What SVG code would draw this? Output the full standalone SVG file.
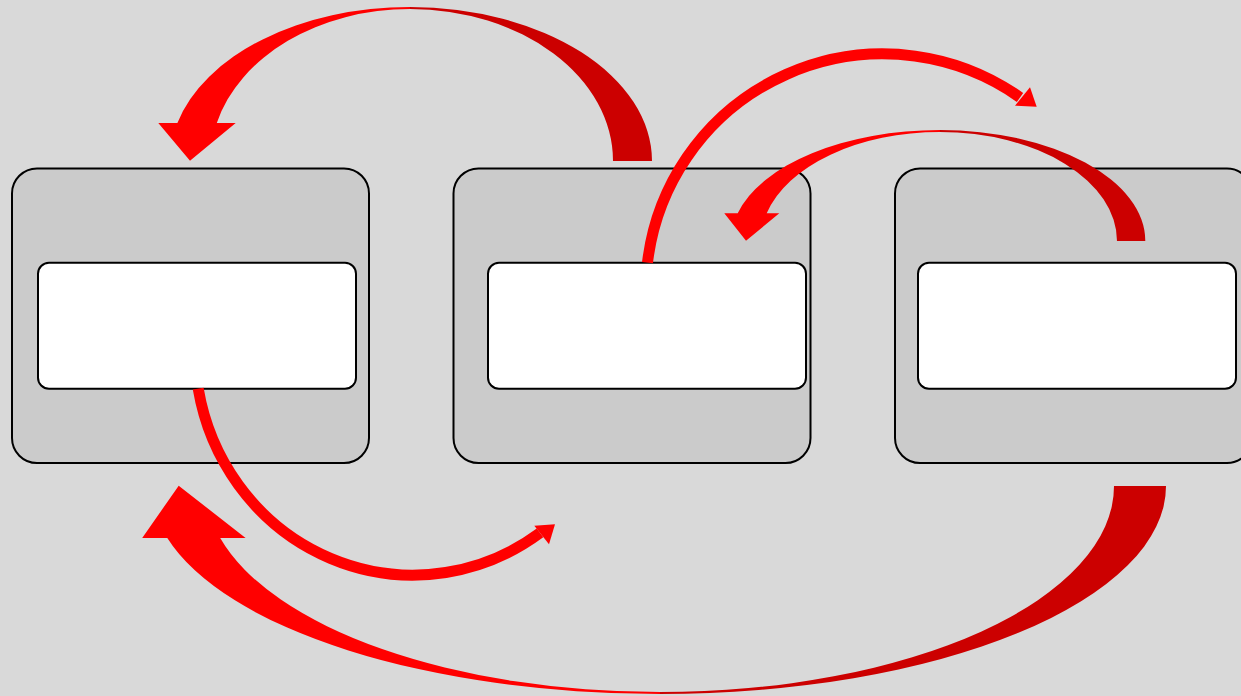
<svg xmlns="http://www.w3.org/2000/svg" width="1241" height="696" viewBox="0 0 1241 696">
  <style>
    .outer { fill: #cbcbcb; stroke: #000; stroke-width: 2; }
    .inner { fill: #ffffff; stroke: #000; stroke-width: 2; }
    .red { fill: #ff0000; }
    .dark { fill: #cc0000; }
    .line { fill: none; stroke: #ff0000; stroke-width: 11; stroke-linecap: butt; }
  </style>
  <rect x="0" y="0" width="1241" height="696" fill="#d9d9d9"/>
  <g id="node1">
    <rect class="outer" x="12" y="168.5" width="357" height="294.5" rx="25" ry="25"/>
    <rect class="inner" x="38" y="262.7" width="318" height="126" rx="11" ry="11"/>
  </g>
  <g id="node2">
    <rect class="outer" x="453.5" y="168.5" width="357" height="294.5" rx="25" ry="25"/>
    <rect class="inner" x="488" y="262.7" width="318" height="126" rx="11" ry="11"/>
  </g>
  <g id="node3">
    <rect class="outer" x="895" y="168.5" width="357" height="294.5" rx="25" ry="25"/>
    <rect class="inner" x="918" y="262.7" width="318" height="126" rx="11" ry="11"/>
  </g>
  <g id="connectors">
    <g id="arrow-top-left">
      <path class="dark" d="M 410 7 A 242 154 0 0 1 652 161 L 613 161 A 203 152 0 0 0 410 9 Z"/>
      <path class="red" d="M 410 7 A 240 154 0 0 0 177.4 123 L 158.3 123 L 190 160.7 L 235.7 123 L 216.8 123 A 199.5 152 0 0 1 410 9 Z"/>
    </g>
    <g id="arrow-top-right">
      <path class="line" d="M 647.5 262.7 A 237 236 0 0 1 1020 97.4"/>
      <polygon class="red" points="1030,87.3 1036.7,106.7 1015,105.7"/>
    </g>
    <g id="arrow-mid">
      <path class="dark" d="M 940 130 A 205.3 111 0 0 1 1145.3 241 L 1117 241 A 177 109 0 0 0 940 132 Z"/>
      <path class="red" d="M 940 130 A 208.9 111 0 0 0 737.7 213.3 L 724.3 213.3 L 746 240.7 L 779.3 213.3 L 766.7 213.3 A 179.2 109 0 0 1 940 132 Z"/>
    </g>
    <g id="arrow-bottom-small">
      <path class="line" d="M 198.2 388.7 A 218 225 0 0 0 540 532.9"/>
      <polygon class="red" points="534.3,525.7 555,524.3 549,544.3"/>
    </g>
    <g id="arrow-bottom-big">
      <path class="dark" d="M 660 694 A 506 208 0 0 0 1166 486 L 1114 486 A 454 206 0 0 1 660 692 Z"/>
      <path class="red" d="M 660 694 A 509 208 0 0 1 167.3 538 L 142.2 538 L 178.7 485.7 L 245.6 538 L 220.2 538 A 454.5 206 0 0 0 660 692 Z"/>
    </g>
  </g>
</svg>
